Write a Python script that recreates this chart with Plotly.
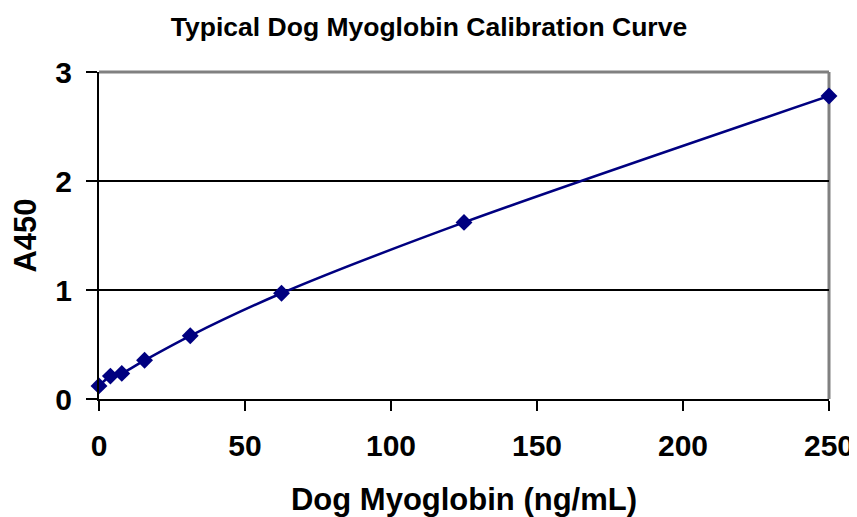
import plotly.graph_objects as go

concentration = [0, 3.9, 7.8, 15.6, 31.25, 62.5, 125, 250]
absorbance = [0.12, 0.21, 0.235, 0.355, 0.58, 0.97, 1.62, 2.78]
x_ticks = [0, 50, 100, 150, 200, 250]
y_ticks = [0, 1, 2, 3]

font = "Liberation Sans, Arial, sans-serif"

# page body adds an 8px offset, so the figure is 8px smaller and shifted
W, H = 849, 509

fig = go.Figure()
fig.add_trace(go.Scatter(
    x=concentration, y=absorbance, mode="lines+markers",
    line=dict(color="#000080", width=2.5, shape="spline", smoothing=0.8),
    marker=dict(symbol="diamond", size=13, color="#000080"),
    showlegend=False, cliponaxis=False,
))

fig.update_layout(
    width=W, height=H,
    margin=dict(l=91, r=28, t=64, b=118, autoexpand=False),
    paper_bgcolor="white", plot_bgcolor="white",
    title=dict(text="Typical Dog Myoglobin Calibration Curve",
               x=(429 - 8) / W, xanchor="center", y=1 - 19 / H, yanchor="middle",
               font=dict(family=font, size=26.5, color="black", weight="bold")),
    xaxis=dict(range=[0, 250], tickvals=x_ticks, showgrid=False, zeroline=False,
               automargin=False,
               showline=True, linecolor="black", linewidth=2,
               ticks="outside", ticklen=10, tickwidth=2, tickcolor="black",
               ticklabelstandoff=9,
               tickfont=dict(family=font, size=30, color="black", weight="bold"),
               title=dict(text="Dog Myoglobin (ng/mL)", standoff=36,
                          font=dict(family=font, size=31, color="black", weight="bold"))),
    yaxis=dict(range=[0, 3], tickvals=y_ticks, showgrid=True, gridcolor="black", gridwidth=2,
               automargin=False,
               zeroline=False, showline=True, linecolor="black", linewidth=2,
               ticks="outside", ticklen=11, tickwidth=2, tickcolor="black",
               ticklabelstandoff=8,
               tickfont=dict(family=font, size=30, color="black", weight="bold"),
               title=dict(text="A450", standoff=18,
                          font=dict(family=font, size=31, color="black", weight="bold"))),
)

fig.add_shape(type="line", xref="paper", yref="paper", x0=0, x1=1, y0=1, y1=1,
              line=dict(color="#808080", width=3), layer="below")
fig.add_shape(type="line", xref="paper", yref="paper", x0=1, x1=1, y0=0, y1=1,
              line=dict(color="#808080", width=3), layer="below")

fig.write_html("out.html")
